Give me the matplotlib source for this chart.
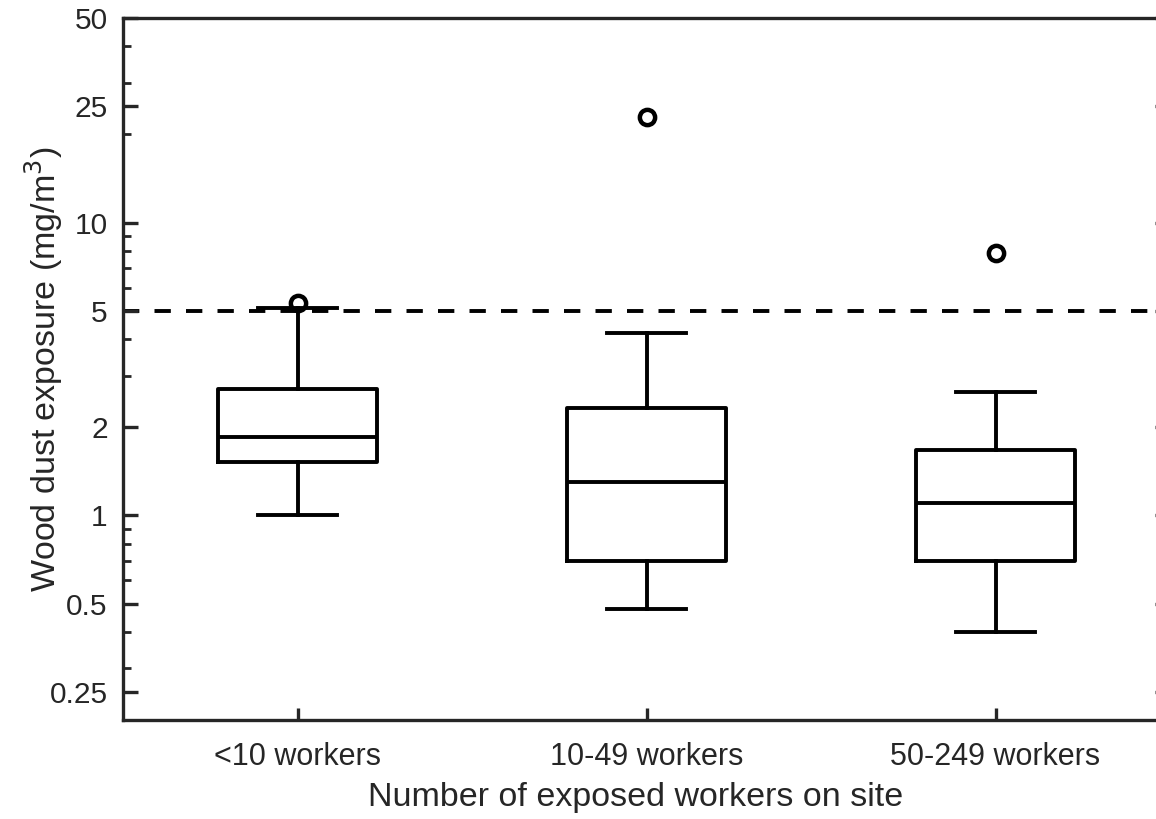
import matplotlib
matplotlib.use('Agg')
import matplotlib.pyplot as plt
from matplotlib.ticker import FixedLocator, FixedFormatter, LogLocator, NullFormatter

plt.rcParams['font.family'] = ['Liberation Sans', 'DejaVu Sans']

# Box summary values (mg/m3)
groups = ['<10 workers', '10-49 workers', '50-249 workers']
medians = [1.85, 1.30, 1.10]
q1 = [1.52, 0.70, 0.70]
q3 = [2.70, 2.32, 1.67]
whisker_lo = [1.00, 0.48, 0.40]
whisker_hi = [5.10, 4.20, 2.63]
outliers = [[5.3], [23.0], [7.9]]
limit_value = 5

yticks = [0.25, 0.5, 1, 2, 5, 10, 25, 50]
yticklabels = ['0.25', '0.5', '1', '2', '5', '10', '25', '50']

txt = '#262626'

fig = plt.figure(figsize=(11.56, 8.19), dpi=100)
# axes runs past the right edge of the figure, like the cropped original
ax = fig.add_axes([123/1156, 1 - 720/819, (1170 - 123)/1156, (720 - 18)/819])

stats = []
for i in range(len(groups)):
    stats.append(dict(med=medians[i], q1=q1[i], q3=q3[i],
                      whislo=whisker_lo[i], whishi=whisker_hi[i],
                      fliers=outliers[i], label=groups[i]))

lw = 2.8
ax.axhline(limit_value, color='black', lw=lw, dashes=(4.2, 3.9), zorder=1)
ax.bxp(stats, positions=[1, 2, 3], widths=0.455, showfliers=True,
       boxprops=dict(color='black', lw=lw),
       medianprops=dict(color='black', lw=lw),
       whiskerprops=dict(color='black', lw=lw),
       capprops=dict(color='black', lw=lw),
       flierprops=dict(marker='o', markerfacecolor='none', markeredgecolor='black',
                       markersize=11, markeredgewidth=3.2))

ax.set_yscale('log')
ax.set_ylim(0.2, 50)
ax.set_xlim(0.5, 3.5)

ax.yaxis.set_major_locator(FixedLocator(yticks))
ax.yaxis.set_major_formatter(FixedFormatter(yticklabels))
ax.yaxis.set_minor_locator(LogLocator(base=10, subs=range(2, 10)))
ax.yaxis.set_minor_formatter(NullFormatter())

ax.set_xticks([1, 2, 3])
ax.set_xticklabels(groups)

for side in ['left', 'bottom', 'top', 'right']:
    ax.spines[side].set_linewidth(2.4)
    ax.spines[side].set_color(txt)

ax.tick_params(axis='y', which='major', direction='in', length=10.5, width=2.4,
               color=txt, labelcolor=txt, labelsize=21.5, pad=11, right=True)
ax.tick_params(axis='y', which='minor', direction='in', length=5.5, width=2.0,
               color=txt, right=False)
ax.tick_params(axis='x', which='major', direction='in', length=9, width=2.4,
               color=txt, labelcolor=txt, labelsize=22, pad=16)
ax.tick_params(axis='x', which='minor', bottom=False)

ax.set_xlabel('Number of exposed workers on site', fontsize=24.5, color=txt)
ax.set_ylabel('Wood dust exposure (mg/m$^3$)', fontsize=24.5, color=txt)
ax.xaxis.set_label_coords(0.49, -0.088)
ax.yaxis.set_label_coords(-0.055, 0.5)

fig.savefig('out.png', dpi=100)
